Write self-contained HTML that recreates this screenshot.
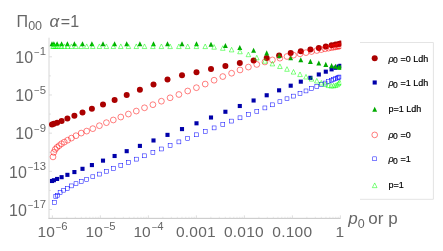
<!DOCTYPE html>
<html><head><meta charset="utf-8"><title>plot</title>
<style>
html,body{margin:0;padding:0;background:#fff;}
body{width:443px;height:251px;position:relative;overflow:hidden;font-family:"Liberation Sans",sans-serif;}
</style></head><body>
<svg width="443" height="251" viewBox="0 0 443 251" style="position:absolute;left:0;top:0;will-change:transform">
<defs><clipPath id="pc"><rect x="40" y="30" width="301.3" height="195"/></clipPath></defs>
<rect width="443" height="251" fill="#fff"/>
<g stroke="#cdcdcd" stroke-width="1" fill="none">
<line x1="49.0" y1="37.7" x2="49.0" y2="218.85" stroke="#d6d6d6"/>
<line x1="48.5" y1="218.35" x2="340.6" y2="218.35" stroke="#c6c6c6"/>
</g>
<g stroke="#d6d6d6" stroke-width="0.8" fill="none">
<line x1="52.40" y1="218.35" x2="52.40" y2="215.35"/>
<line x1="66.85" y1="218.35" x2="66.85" y2="216.75" stroke-opacity="0.7"/>
<line x1="75.30" y1="218.35" x2="75.30" y2="216.75" stroke-opacity="0.7"/>
<line x1="81.30" y1="218.35" x2="81.30" y2="216.75" stroke-opacity="0.7"/>
<line x1="85.95" y1="218.35" x2="85.95" y2="216.75" stroke-opacity="0.7"/>
<line x1="89.75" y1="218.35" x2="89.75" y2="216.75" stroke-opacity="0.7"/>
<line x1="92.96" y1="218.35" x2="92.96" y2="216.75" stroke-opacity="0.7"/>
<line x1="95.75" y1="218.35" x2="95.75" y2="216.75" stroke-opacity="0.7"/>
<line x1="98.20" y1="218.35" x2="98.20" y2="216.75" stroke-opacity="0.7"/>
<line x1="100.40" y1="218.35" x2="100.40" y2="215.35"/>
<line x1="114.85" y1="218.35" x2="114.85" y2="216.75" stroke-opacity="0.7"/>
<line x1="123.30" y1="218.35" x2="123.30" y2="216.75" stroke-opacity="0.7"/>
<line x1="129.30" y1="218.35" x2="129.30" y2="216.75" stroke-opacity="0.7"/>
<line x1="133.95" y1="218.35" x2="133.95" y2="216.75" stroke-opacity="0.7"/>
<line x1="137.75" y1="218.35" x2="137.75" y2="216.75" stroke-opacity="0.7"/>
<line x1="140.96" y1="218.35" x2="140.96" y2="216.75" stroke-opacity="0.7"/>
<line x1="143.75" y1="218.35" x2="143.75" y2="216.75" stroke-opacity="0.7"/>
<line x1="146.20" y1="218.35" x2="146.20" y2="216.75" stroke-opacity="0.7"/>
<line x1="148.40" y1="218.35" x2="148.40" y2="215.35"/>
<line x1="162.85" y1="218.35" x2="162.85" y2="216.75" stroke-opacity="0.7"/>
<line x1="171.30" y1="218.35" x2="171.30" y2="216.75" stroke-opacity="0.7"/>
<line x1="177.30" y1="218.35" x2="177.30" y2="216.75" stroke-opacity="0.7"/>
<line x1="181.95" y1="218.35" x2="181.95" y2="216.75" stroke-opacity="0.7"/>
<line x1="185.75" y1="218.35" x2="185.75" y2="216.75" stroke-opacity="0.7"/>
<line x1="188.96" y1="218.35" x2="188.96" y2="216.75" stroke-opacity="0.7"/>
<line x1="191.75" y1="218.35" x2="191.75" y2="216.75" stroke-opacity="0.7"/>
<line x1="194.20" y1="218.35" x2="194.20" y2="216.75" stroke-opacity="0.7"/>
<line x1="196.40" y1="218.35" x2="196.40" y2="215.35"/>
<line x1="210.85" y1="218.35" x2="210.85" y2="216.75" stroke-opacity="0.7"/>
<line x1="219.30" y1="218.35" x2="219.30" y2="216.75" stroke-opacity="0.7"/>
<line x1="225.30" y1="218.35" x2="225.30" y2="216.75" stroke-opacity="0.7"/>
<line x1="229.95" y1="218.35" x2="229.95" y2="216.75" stroke-opacity="0.7"/>
<line x1="233.75" y1="218.35" x2="233.75" y2="216.75" stroke-opacity="0.7"/>
<line x1="236.96" y1="218.35" x2="236.96" y2="216.75" stroke-opacity="0.7"/>
<line x1="239.75" y1="218.35" x2="239.75" y2="216.75" stroke-opacity="0.7"/>
<line x1="242.20" y1="218.35" x2="242.20" y2="216.75" stroke-opacity="0.7"/>
<line x1="244.40" y1="218.35" x2="244.40" y2="215.35"/>
<line x1="258.85" y1="218.35" x2="258.85" y2="216.75" stroke-opacity="0.7"/>
<line x1="267.30" y1="218.35" x2="267.30" y2="216.75" stroke-opacity="0.7"/>
<line x1="273.30" y1="218.35" x2="273.30" y2="216.75" stroke-opacity="0.7"/>
<line x1="277.95" y1="218.35" x2="277.95" y2="216.75" stroke-opacity="0.7"/>
<line x1="281.75" y1="218.35" x2="281.75" y2="216.75" stroke-opacity="0.7"/>
<line x1="284.96" y1="218.35" x2="284.96" y2="216.75" stroke-opacity="0.7"/>
<line x1="287.75" y1="218.35" x2="287.75" y2="216.75" stroke-opacity="0.7"/>
<line x1="290.20" y1="218.35" x2="290.20" y2="216.75" stroke-opacity="0.7"/>
<line x1="292.40" y1="218.35" x2="292.40" y2="215.35"/>
<line x1="306.85" y1="218.35" x2="306.85" y2="216.75" stroke-opacity="0.7"/>
<line x1="315.30" y1="218.35" x2="315.30" y2="216.75" stroke-opacity="0.7"/>
<line x1="321.30" y1="218.35" x2="321.30" y2="216.75" stroke-opacity="0.7"/>
<line x1="325.95" y1="218.35" x2="325.95" y2="216.75" stroke-opacity="0.7"/>
<line x1="329.75" y1="218.35" x2="329.75" y2="216.75" stroke-opacity="0.7"/>
<line x1="332.96" y1="218.35" x2="332.96" y2="216.75" stroke-opacity="0.7"/>
<line x1="335.75" y1="218.35" x2="335.75" y2="216.75" stroke-opacity="0.7"/>
<line x1="338.20" y1="218.35" x2="338.20" y2="216.75" stroke-opacity="0.7"/>
<line x1="340.40" y1="218.35" x2="340.40" y2="215.35"/>
<line x1="49.0" y1="56.80" x2="52.0" y2="56.80"/>
<line x1="49.0" y1="75.89" x2="50.8" y2="75.89"/>
<line x1="49.0" y1="94.98" x2="52.0" y2="94.98"/>
<line x1="49.0" y1="114.07" x2="50.8" y2="114.07"/>
<line x1="49.0" y1="133.16" x2="52.0" y2="133.16"/>
<line x1="49.0" y1="152.25" x2="50.8" y2="152.25"/>
<line x1="49.0" y1="171.34" x2="52.0" y2="171.34"/>
<line x1="49.0" y1="190.43" x2="50.8" y2="190.43"/>
<line x1="49.0" y1="209.52" x2="52.0" y2="209.52"/>
</g>
<g clip-path="url(#pc)">
<circle cx="52.00" cy="124.40" r="3.0" fill="#aa0000"/>
<circle cx="53.90" cy="123.80" r="3.0" fill="#aa0000"/>
<circle cx="57.10" cy="122.80" r="3.0" fill="#aa0000"/>
<circle cx="61.60" cy="121.00" r="3.0" fill="#aa0000"/>
<circle cx="67.40" cy="118.50" r="3.0" fill="#aa0000"/>
<circle cx="74.40" cy="115.70" r="3.0" fill="#aa0000"/>
<circle cx="82.50" cy="112.60" r="3.0" fill="#aa0000"/>
<circle cx="91.90" cy="108.70" r="3.0" fill="#aa0000"/>
<circle cx="103.00" cy="104.50" r="3.0" fill="#aa0000"/>
<circle cx="114.60" cy="99.90" r="3.0" fill="#aa0000"/>
<circle cx="126.70" cy="95.00" r="3.0" fill="#aa0000"/>
<circle cx="139.90" cy="89.80" r="3.0" fill="#aa0000"/>
<circle cx="153.50" cy="84.50" r="3.0" fill="#aa0000"/>
<circle cx="167.50" cy="79.50" r="3.0" fill="#aa0000"/>
<circle cx="182.00" cy="75.30" r="3.0" fill="#aa0000"/>
<circle cx="196.50" cy="72.20" r="3.0" fill="#aa0000"/>
<circle cx="211.00" cy="69.00" r="3.0" fill="#aa0000"/>
<circle cx="225.40" cy="66.00" r="3.0" fill="#aa0000"/>
<circle cx="239.80" cy="63.00" r="3.0" fill="#aa0000"/>
<circle cx="253.60" cy="60.50" r="3.0" fill="#aa0000"/>
<circle cx="266.70" cy="57.90" r="3.0" fill="#aa0000"/>
<circle cx="279.10" cy="55.50" r="3.0" fill="#aa0000"/>
<circle cx="290.70" cy="53.10" r="3.0" fill="#aa0000"/>
<circle cx="300.80" cy="51.30" r="3.0" fill="#aa0000"/>
<circle cx="310.40" cy="49.40" r="3.0" fill="#aa0000"/>
<circle cx="318.80" cy="47.90" r="3.0" fill="#aa0000"/>
<circle cx="325.80" cy="46.50" r="3.0" fill="#aa0000"/>
<circle cx="331.60" cy="45.30" r="3.0" fill="#aa0000"/>
<circle cx="335.50" cy="44.50" r="3.0" fill="#aa0000"/>
<circle cx="338.70" cy="43.90" r="3.0" fill="#aa0000"/>
<circle cx="340.40" cy="43.40" r="3.0" fill="#aa0000"/>
<rect x="49.95" y="178.95" width="4.1" height="4.1" fill="#0000aa"/>
<rect x="51.85" y="178.19" width="4.1" height="4.1" fill="#0000aa"/>
<rect x="55.05" y="176.91" width="4.1" height="4.1" fill="#0000aa"/>
<rect x="59.55" y="175.12" width="4.1" height="4.1" fill="#0000aa"/>
<rect x="65.35" y="172.80" width="4.1" height="4.1" fill="#0000aa"/>
<rect x="72.35" y="170.01" width="4.1" height="4.1" fill="#0000aa"/>
<rect x="80.45" y="166.77" width="4.1" height="4.1" fill="#0000aa"/>
<rect x="89.85" y="163.02" width="4.1" height="4.1" fill="#0000aa"/>
<rect x="100.95" y="158.59" width="4.1" height="4.1" fill="#0000aa"/>
<rect x="112.55" y="153.95" width="4.1" height="4.1" fill="#0000aa"/>
<rect x="124.65" y="149.12" width="4.1" height="4.1" fill="#0000aa"/>
<rect x="137.85" y="143.85" width="4.1" height="4.1" fill="#0000aa"/>
<rect x="151.45" y="138.42" width="4.1" height="4.1" fill="#0000aa"/>
<rect x="165.45" y="132.83" width="4.1" height="4.1" fill="#0000aa"/>
<rect x="179.95" y="127.04" width="4.1" height="4.1" fill="#0000aa"/>
<rect x="194.45" y="121.25" width="4.1" height="4.1" fill="#0000aa"/>
<rect x="208.95" y="115.46" width="4.1" height="4.1" fill="#0000aa"/>
<rect x="223.35" y="109.71" width="4.1" height="4.1" fill="#0000aa"/>
<rect x="237.75" y="103.96" width="4.1" height="4.1" fill="#0000aa"/>
<rect x="251.55" y="98.45" width="4.1" height="4.1" fill="#0000aa"/>
<rect x="264.65" y="93.22" width="4.1" height="4.1" fill="#0000aa"/>
<rect x="277.05" y="88.27" width="4.1" height="4.1" fill="#0000aa"/>
<rect x="288.65" y="83.64" width="4.1" height="4.1" fill="#0000aa"/>
<rect x="298.75" y="79.60" width="4.1" height="4.1" fill="#0000aa"/>
<rect x="308.35" y="75.77" width="4.1" height="4.1" fill="#0000aa"/>
<rect x="316.75" y="72.42" width="4.1" height="4.1" fill="#0000aa"/>
<rect x="323.75" y="69.62" width="4.1" height="4.1" fill="#0000aa"/>
<rect x="329.55" y="67.31" width="4.1" height="4.1" fill="#0000aa"/>
<rect x="333.45" y="65.75" width="4.1" height="4.1" fill="#0000aa"/>
<rect x="336.65" y="64.47" width="4.1" height="4.1" fill="#0000aa"/>
<rect x="338.35" y="63.79" width="4.1" height="4.1" fill="#0000aa"/>
<polygon points="49.55,46.25 54.45,46.25 52.00,41.15" fill="#00aa00"/>
<polygon points="51.45,46.25 56.35,46.25 53.90,41.15" fill="#00aa00"/>
<polygon points="54.65,46.25 59.55,46.25 57.10,41.15" fill="#00aa00"/>
<polygon points="59.15,46.25 64.05,46.25 61.60,41.15" fill="#00aa00"/>
<polygon points="64.95,46.25 69.85,46.25 67.40,41.15" fill="#00aa00"/>
<polygon points="71.95,46.25 76.85,46.25 74.40,41.15" fill="#00aa00"/>
<polygon points="80.05,46.25 84.95,46.25 82.50,41.15" fill="#00aa00"/>
<polygon points="89.45,46.25 94.35,46.25 91.90,41.15" fill="#00aa00"/>
<polygon points="100.55,46.25 105.45,46.25 103.00,41.15" fill="#00aa00"/>
<polygon points="112.15,46.25 117.05,46.25 114.60,41.15" fill="#00aa00"/>
<polygon points="124.25,46.25 129.15,46.25 126.70,41.15" fill="#00aa00"/>
<polygon points="137.45,46.25 142.35,46.25 139.90,41.15" fill="#00aa00"/>
<polygon points="151.05,46.25 155.95,46.25 153.50,41.15" fill="#00aa00"/>
<polygon points="165.05,46.25 169.95,46.25 167.50,41.15" fill="#00aa00"/>
<polygon points="179.55,46.25 184.45,46.25 182.00,41.15" fill="#00aa00"/>
<polygon points="194.05,46.25 198.95,46.25 196.50,41.15" fill="#00aa00"/>
<polygon points="208.55,46.85 213.45,46.85 211.00,41.75" fill="#00aa00"/>
<polygon points="222.95,48.05 227.85,48.05 225.40,42.95" fill="#00aa00"/>
<polygon points="237.35,50.05 242.25,50.05 239.80,44.95" fill="#00aa00"/>
<polygon points="251.15,52.85 256.05,52.85 253.60,47.75" fill="#00aa00"/>
<polygon points="264.25,55.45 269.15,55.45 266.70,50.35" fill="#00aa00"/>
<polygon points="276.65,58.05 281.55,58.05 279.10,52.95" fill="#00aa00"/>
<polygon points="288.25,60.25 293.15,60.25 290.70,55.15" fill="#00aa00"/>
<polygon points="298.35,62.25 303.25,62.25 300.80,57.15" fill="#00aa00"/>
<polygon points="307.95,63.95 312.85,63.95 310.40,58.85" fill="#00aa00"/>
<polygon points="316.35,65.55 321.25,65.55 318.80,60.45" fill="#00aa00"/>
<polygon points="323.35,66.95 328.25,66.95 325.80,61.85" fill="#00aa00"/>
<polygon points="329.15,68.15 334.05,68.15 331.60,63.05" fill="#00aa00"/>
<polygon points="333.05,68.85 337.95,68.85 335.50,63.75" fill="#00aa00"/>
<polygon points="336.25,69.45 341.15,69.45 338.70,64.35" fill="#00aa00"/>
<polygon points="337.95,69.75 342.85,69.75 340.40,64.65" fill="#00aa00"/>
<circle cx="53.00" cy="156.90" r="2.9" fill="none" stroke="#ff0000" stroke-width="0.5"/>
<circle cx="53.80" cy="152.40" r="2.9" fill="none" stroke="#ff0000" stroke-width="0.5"/>
<circle cx="55.20" cy="149.40" r="2.9" fill="none" stroke="#ff0000" stroke-width="0.5"/>
<circle cx="57.00" cy="147.40" r="2.9" fill="none" stroke="#ff0000" stroke-width="0.5"/>
<circle cx="59.10" cy="145.70" r="2.9" fill="none" stroke="#ff0000" stroke-width="0.5"/>
<circle cx="61.50" cy="143.80" r="2.9" fill="none" stroke="#ff0000" stroke-width="0.5"/>
<circle cx="64.30" cy="142.10" r="2.9" fill="none" stroke="#ff0000" stroke-width="0.5"/>
<circle cx="67.60" cy="140.20" r="2.9" fill="none" stroke="#ff0000" stroke-width="0.5"/>
<circle cx="71.40" cy="138.10" r="2.9" fill="none" stroke="#ff0000" stroke-width="0.5"/>
<circle cx="76.00" cy="135.70" r="2.9" fill="none" stroke="#ff0000" stroke-width="0.5"/>
<circle cx="81.20" cy="133.10" r="2.9" fill="none" stroke="#ff0000" stroke-width="0.5"/>
<circle cx="86.70" cy="131.10" r="2.9" fill="none" stroke="#ff0000" stroke-width="0.5"/>
<circle cx="92.80" cy="128.66" r="2.9" fill="none" stroke="#ff0000" stroke-width="0.5"/>
<circle cx="99.40" cy="125.71" r="2.9" fill="none" stroke="#ff0000" stroke-width="0.5"/>
<circle cx="106.40" cy="122.67" r="2.9" fill="none" stroke="#ff0000" stroke-width="0.5"/>
<circle cx="113.30" cy="119.98" r="2.9" fill="none" stroke="#ff0000" stroke-width="0.5"/>
<circle cx="120.80" cy="117.04" r="2.9" fill="none" stroke="#ff0000" stroke-width="0.5"/>
<circle cx="128.40" cy="114.05" r="2.9" fill="none" stroke="#ff0000" stroke-width="0.5"/>
<circle cx="136.30" cy="111.06" r="2.9" fill="none" stroke="#ff0000" stroke-width="0.5"/>
<circle cx="144.50" cy="107.80" r="2.9" fill="none" stroke="#ff0000" stroke-width="0.5"/>
<circle cx="152.90" cy="104.70" r="2.9" fill="none" stroke="#ff0000" stroke-width="0.5"/>
<circle cx="161.40" cy="101.20" r="2.9" fill="none" stroke="#ff0000" stroke-width="0.5"/>
<circle cx="170.10" cy="97.80" r="2.9" fill="none" stroke="#ff0000" stroke-width="0.5"/>
<circle cx="178.90" cy="94.50" r="2.9" fill="none" stroke="#ff0000" stroke-width="0.5"/>
<circle cx="187.70" cy="91.00" r="2.9" fill="none" stroke="#ff0000" stroke-width="0.5"/>
<circle cx="196.40" cy="87.70" r="2.9" fill="none" stroke="#ff0000" stroke-width="0.5"/>
<circle cx="205.20" cy="84.06" r="2.9" fill="none" stroke="#ff0000" stroke-width="0.5"/>
<circle cx="214.10" cy="80.22" r="2.9" fill="none" stroke="#ff0000" stroke-width="0.5"/>
<circle cx="222.80" cy="76.56" r="2.9" fill="none" stroke="#ff0000" stroke-width="0.5"/>
<circle cx="231.60" cy="73.22" r="2.9" fill="none" stroke="#ff0000" stroke-width="0.5"/>
<circle cx="240.00" cy="69.97" r="2.9" fill="none" stroke="#ff0000" stroke-width="0.5"/>
<circle cx="248.40" cy="67.07" r="2.9" fill="none" stroke="#ff0000" stroke-width="0.5"/>
<circle cx="256.80" cy="64.44" r="2.9" fill="none" stroke="#ff0000" stroke-width="0.5"/>
<circle cx="264.90" cy="61.97" r="2.9" fill="none" stroke="#ff0000" stroke-width="0.5"/>
<circle cx="272.40" cy="59.90" r="2.9" fill="none" stroke="#ff0000" stroke-width="0.5"/>
<circle cx="279.90" cy="58.18" r="2.9" fill="none" stroke="#ff0000" stroke-width="0.5"/>
<circle cx="287.00" cy="56.50" r="2.9" fill="none" stroke="#ff0000" stroke-width="0.5"/>
<circle cx="293.50" cy="55.12" r="2.9" fill="none" stroke="#ff0000" stroke-width="0.5"/>
<circle cx="300.00" cy="53.82" r="2.9" fill="none" stroke="#ff0000" stroke-width="0.5"/>
<circle cx="306.00" cy="52.62" r="2.9" fill="none" stroke="#ff0000" stroke-width="0.5"/>
<circle cx="311.50" cy="51.52" r="2.9" fill="none" stroke="#ff0000" stroke-width="0.5"/>
<circle cx="316.80" cy="50.50" r="2.9" fill="none" stroke="#ff0000" stroke-width="0.5"/>
<circle cx="321.30" cy="49.62" r="2.9" fill="none" stroke="#ff0000" stroke-width="0.5"/>
<circle cx="325.10" cy="48.82" r="2.9" fill="none" stroke="#ff0000" stroke-width="0.5"/>
<circle cx="328.40" cy="48.22" r="2.9" fill="none" stroke="#ff0000" stroke-width="0.5"/>
<circle cx="331.20" cy="47.62" r="2.9" fill="none" stroke="#ff0000" stroke-width="0.5"/>
<circle cx="333.50" cy="47.23" r="2.9" fill="none" stroke="#ff0000" stroke-width="0.5"/>
<circle cx="335.50" cy="46.86" r="2.9" fill="none" stroke="#ff0000" stroke-width="0.5"/>
<circle cx="337.20" cy="46.49" r="2.9" fill="none" stroke="#ff0000" stroke-width="0.5"/>
<circle cx="338.70" cy="46.16" r="2.9" fill="none" stroke="#ff0000" stroke-width="0.5"/>
<circle cx="339.70" cy="46.01" r="2.9" fill="none" stroke="#ff0000" stroke-width="0.5"/>
<rect x="52.45" y="200.45" width="3.9" height="3.9" fill="none" stroke="#0000ff" stroke-width="0.5"/>
<rect x="53.85" y="194.65" width="3.9" height="3.9" fill="none" stroke="#0000ff" stroke-width="0.5"/>
<rect x="55.55" y="193.25" width="3.9" height="3.9" fill="none" stroke="#0000ff" stroke-width="0.5"/>
<rect x="58.15" y="190.65" width="3.9" height="3.9" fill="none" stroke="#0000ff" stroke-width="0.5"/>
<rect x="61.75" y="188.25" width="3.9" height="3.9" fill="none" stroke="#0000ff" stroke-width="0.5"/>
<rect x="65.25" y="186.45" width="3.9" height="3.9" fill="none" stroke="#0000ff" stroke-width="0.5"/>
<rect x="69.45" y="183.95" width="3.9" height="3.9" fill="none" stroke="#0000ff" stroke-width="0.5"/>
<rect x="74.05" y="181.75" width="3.9" height="3.9" fill="none" stroke="#0000ff" stroke-width="0.5"/>
<rect x="79.25" y="179.55" width="3.9" height="3.9" fill="none" stroke="#0000ff" stroke-width="0.5"/>
<rect x="84.75" y="177.45" width="3.9" height="3.9" fill="none" stroke="#0000ff" stroke-width="0.5"/>
<rect x="90.85" y="174.81" width="3.9" height="3.9" fill="none" stroke="#0000ff" stroke-width="0.5"/>
<rect x="97.45" y="172.14" width="3.9" height="3.9" fill="none" stroke="#0000ff" stroke-width="0.5"/>
<rect x="104.45" y="169.30" width="3.9" height="3.9" fill="none" stroke="#0000ff" stroke-width="0.5"/>
<rect x="111.35" y="166.51" width="3.9" height="3.9" fill="none" stroke="#0000ff" stroke-width="0.5"/>
<rect x="118.85" y="163.47" width="3.9" height="3.9" fill="none" stroke="#0000ff" stroke-width="0.5"/>
<rect x="126.45" y="160.39" width="3.9" height="3.9" fill="none" stroke="#0000ff" stroke-width="0.5"/>
<rect x="134.35" y="157.19" width="3.9" height="3.9" fill="none" stroke="#0000ff" stroke-width="0.5"/>
<rect x="142.55" y="153.87" width="3.9" height="3.9" fill="none" stroke="#0000ff" stroke-width="0.5"/>
<rect x="150.95" y="150.47" width="3.9" height="3.9" fill="none" stroke="#0000ff" stroke-width="0.5"/>
<rect x="159.45" y="147.03" width="3.9" height="3.9" fill="none" stroke="#0000ff" stroke-width="0.5"/>
<rect x="168.15" y="143.50" width="3.9" height="3.9" fill="none" stroke="#0000ff" stroke-width="0.5"/>
<rect x="176.95" y="139.94" width="3.9" height="3.9" fill="none" stroke="#0000ff" stroke-width="0.5"/>
<rect x="185.75" y="136.37" width="3.9" height="3.9" fill="none" stroke="#0000ff" stroke-width="0.5"/>
<rect x="194.45" y="132.85" width="3.9" height="3.9" fill="none" stroke="#0000ff" stroke-width="0.5"/>
<rect x="203.25" y="129.42" width="3.9" height="3.9" fill="none" stroke="#0000ff" stroke-width="0.5"/>
<rect x="212.15" y="125.96" width="3.9" height="3.9" fill="none" stroke="#0000ff" stroke-width="0.5"/>
<rect x="220.85" y="122.57" width="3.9" height="3.9" fill="none" stroke="#0000ff" stroke-width="0.5"/>
<rect x="229.65" y="119.14" width="3.9" height="3.9" fill="none" stroke="#0000ff" stroke-width="0.5"/>
<rect x="238.05" y="115.87" width="3.9" height="3.9" fill="none" stroke="#0000ff" stroke-width="0.5"/>
<rect x="246.45" y="112.60" width="3.9" height="3.9" fill="none" stroke="#0000ff" stroke-width="0.5"/>
<rect x="254.85" y="109.33" width="3.9" height="3.9" fill="none" stroke="#0000ff" stroke-width="0.5"/>
<rect x="262.95" y="105.98" width="3.9" height="3.9" fill="none" stroke="#0000ff" stroke-width="0.5"/>
<rect x="270.45" y="102.88" width="3.9" height="3.9" fill="none" stroke="#0000ff" stroke-width="0.5"/>
<rect x="277.95" y="99.78" width="3.9" height="3.9" fill="none" stroke="#0000ff" stroke-width="0.5"/>
<rect x="285.05" y="96.84" width="3.9" height="3.9" fill="none" stroke="#0000ff" stroke-width="0.5"/>
<rect x="291.55" y="94.16" width="3.9" height="3.9" fill="none" stroke="#0000ff" stroke-width="0.5"/>
<rect x="298.05" y="91.47" width="3.9" height="3.9" fill="none" stroke="#0000ff" stroke-width="0.5"/>
<rect x="304.05" y="88.99" width="3.9" height="3.9" fill="none" stroke="#0000ff" stroke-width="0.5"/>
<rect x="309.55" y="86.71" width="3.9" height="3.9" fill="none" stroke="#0000ff" stroke-width="0.5"/>
<rect x="314.85" y="84.52" width="3.9" height="3.9" fill="none" stroke="#0000ff" stroke-width="0.5"/>
<rect x="319.35" y="82.66" width="3.9" height="3.9" fill="none" stroke="#0000ff" stroke-width="0.5"/>
<rect x="323.15" y="81.09" width="3.9" height="3.9" fill="none" stroke="#0000ff" stroke-width="0.5"/>
<rect x="326.45" y="79.72" width="3.9" height="3.9" fill="none" stroke="#0000ff" stroke-width="0.5"/>
<rect x="329.25" y="78.57" width="3.9" height="3.9" fill="none" stroke="#0000ff" stroke-width="0.5"/>
<rect x="331.55" y="77.61" width="3.9" height="3.9" fill="none" stroke="#0000ff" stroke-width="0.5"/>
<rect x="333.55" y="76.79" width="3.9" height="3.9" fill="none" stroke="#0000ff" stroke-width="0.5"/>
<rect x="335.25" y="76.08" width="3.9" height="3.9" fill="none" stroke="#0000ff" stroke-width="0.5"/>
<rect x="336.75" y="75.46" width="3.9" height="3.9" fill="none" stroke="#0000ff" stroke-width="0.5"/>
<rect x="337.75" y="75.05" width="3.9" height="3.9" fill="none" stroke="#0000ff" stroke-width="0.5"/>
<polygon points="50.70,48.50 55.30,48.50 53.00,43.90" fill="none" stroke="#00ff00" stroke-width="0.5"/>
<polygon points="51.50,48.50 56.10,48.50 53.80,43.90" fill="none" stroke="#00ff00" stroke-width="0.5"/>
<polygon points="52.90,48.50 57.50,48.50 55.20,43.90" fill="none" stroke="#00ff00" stroke-width="0.5"/>
<polygon points="54.70,48.50 59.30,48.50 57.00,43.90" fill="none" stroke="#00ff00" stroke-width="0.5"/>
<polygon points="56.80,48.50 61.40,48.50 59.10,43.90" fill="none" stroke="#00ff00" stroke-width="0.5"/>
<polygon points="59.20,48.51 63.80,48.51 61.50,43.91" fill="none" stroke="#00ff00" stroke-width="0.5"/>
<polygon points="62.00,48.51 66.60,48.51 64.30,43.91" fill="none" stroke="#00ff00" stroke-width="0.5"/>
<polygon points="65.30,48.51 69.90,48.51 67.60,43.91" fill="none" stroke="#00ff00" stroke-width="0.5"/>
<polygon points="69.10,48.51 73.70,48.51 71.40,43.91" fill="none" stroke="#00ff00" stroke-width="0.5"/>
<polygon points="73.70,48.52 78.30,48.52 76.00,43.92" fill="none" stroke="#00ff00" stroke-width="0.5"/>
<polygon points="78.90,48.52 83.50,48.52 81.20,43.92" fill="none" stroke="#00ff00" stroke-width="0.5"/>
<polygon points="84.40,48.52 89.00,48.52 86.70,43.92" fill="none" stroke="#00ff00" stroke-width="0.5"/>
<polygon points="90.50,48.53 95.10,48.53 92.80,43.93" fill="none" stroke="#00ff00" stroke-width="0.5"/>
<polygon points="97.10,48.53 101.70,48.53 99.40,43.93" fill="none" stroke="#00ff00" stroke-width="0.5"/>
<polygon points="104.10,48.54 108.70,48.54 106.40,43.94" fill="none" stroke="#00ff00" stroke-width="0.5"/>
<polygon points="111.00,48.54 115.60,48.54 113.30,43.94" fill="none" stroke="#00ff00" stroke-width="0.5"/>
<polygon points="118.50,48.54 123.10,48.54 120.80,43.94" fill="none" stroke="#00ff00" stroke-width="0.5"/>
<polygon points="126.10,48.55 130.70,48.55 128.40,43.95" fill="none" stroke="#00ff00" stroke-width="0.5"/>
<polygon points="134.00,48.55 138.60,48.55 136.30,43.95" fill="none" stroke="#00ff00" stroke-width="0.5"/>
<polygon points="142.20,48.56 146.80,48.56 144.50,43.96" fill="none" stroke="#00ff00" stroke-width="0.5"/>
<polygon points="150.60,48.57 155.20,48.57 152.90,43.97" fill="none" stroke="#00ff00" stroke-width="0.5"/>
<polygon points="159.10,48.57 163.70,48.57 161.40,43.97" fill="none" stroke="#00ff00" stroke-width="0.5"/>
<polygon points="167.80,48.58 172.40,48.58 170.10,43.98" fill="none" stroke="#00ff00" stroke-width="0.5"/>
<polygon points="176.60,48.58 181.20,48.58 178.90,43.98" fill="none" stroke="#00ff00" stroke-width="0.5"/>
<polygon points="185.40,48.59 190.00,48.59 187.70,43.99" fill="none" stroke="#00ff00" stroke-width="0.5"/>
<polygon points="194.10,48.59 198.70,48.59 196.40,43.99" fill="none" stroke="#00ff00" stroke-width="0.5"/>
<polygon points="202.90,48.60 207.50,48.60 205.20,44.00" fill="none" stroke="#00ff00" stroke-width="0.5"/>
<polygon points="211.80,49.20 216.40,49.20 214.10,44.60" fill="none" stroke="#00ff00" stroke-width="0.5"/>
<polygon points="220.50,50.30 225.10,50.30 222.80,45.70" fill="none" stroke="#00ff00" stroke-width="0.5"/>
<polygon points="229.30,51.90 233.90,51.90 231.60,47.30" fill="none" stroke="#00ff00" stroke-width="0.5"/>
<polygon points="237.70,53.78 242.30,53.78 240.00,49.18" fill="none" stroke="#00ff00" stroke-width="0.5"/>
<polygon points="246.10,56.70 250.70,56.70 248.40,52.10" fill="none" stroke="#00ff00" stroke-width="0.5"/>
<polygon points="254.50,59.90 259.10,59.90 256.80,55.30" fill="none" stroke="#00ff00" stroke-width="0.5"/>
<polygon points="262.60,63.21 267.20,63.21 264.90,58.61" fill="none" stroke="#00ff00" stroke-width="0.5"/>
<polygon points="270.10,65.90 274.70,65.90 272.40,61.30" fill="none" stroke="#00ff00" stroke-width="0.5"/>
<polygon points="277.60,68.54 282.20,68.54 279.90,63.94" fill="none" stroke="#00ff00" stroke-width="0.5"/>
<polygon points="284.70,71.29 289.30,71.29 287.00,66.69" fill="none" stroke="#00ff00" stroke-width="0.5"/>
<polygon points="291.20,74.10 295.80,74.10 293.50,69.50" fill="none" stroke="#00ff00" stroke-width="0.5"/>
<polygon points="297.70,76.58 302.30,76.58 300.00,71.98" fill="none" stroke="#00ff00" stroke-width="0.5"/>
<polygon points="303.70,79.01 308.30,79.01 306.00,74.41" fill="none" stroke="#00ff00" stroke-width="0.5"/>
<polygon points="309.20,81.11 313.80,81.11 311.50,76.51" fill="none" stroke="#00ff00" stroke-width="0.5"/>
<polygon points="314.50,83.04 319.10,83.04 316.80,78.44" fill="none" stroke="#00ff00" stroke-width="0.5"/>
<polygon points="319.00,85.04 323.60,85.04 321.30,80.44" fill="none" stroke="#00ff00" stroke-width="0.5"/>
<polygon points="322.80,86.46 327.40,86.46 325.10,81.86" fill="none" stroke="#00ff00" stroke-width="0.5"/>
<polygon points="326.10,87.60 330.70,87.60 328.40,83.00" fill="none" stroke="#00ff00" stroke-width="0.5"/>
<polygon points="328.90,88.00 333.50,88.00 331.20,83.40" fill="none" stroke="#00ff00" stroke-width="0.5"/>
<polygon points="331.20,87.90 335.80,87.90 333.50,83.30" fill="none" stroke="#00ff00" stroke-width="0.5"/>
<polygon points="333.20,87.56 337.80,87.56 335.50,82.96" fill="none" stroke="#00ff00" stroke-width="0.5"/>
<polygon points="334.90,86.75 339.50,86.75 337.20,82.15" fill="none" stroke="#00ff00" stroke-width="0.5"/>
<polygon points="336.40,85.58 341.00,85.58 338.70,80.98" fill="none" stroke="#00ff00" stroke-width="0.5"/>
<polygon points="337.40,84.50 342.00,84.50 339.70,79.90" fill="none" stroke="#00ff00" stroke-width="0.5"/>
</g>
<text x="15.32" y="63.0" font-family="Liberation Sans, sans-serif" font-size="16" letter-spacing="0" fill="#666666">10<tspan dx="0.9" dy="-6.699999999999999" font-size="9.6" letter-spacing="0">−</tspan><tspan dy="-0.9" font-size="11.3" letter-spacing="0">1</tspan></text>
<text x="15.32" y="101.1" font-family="Liberation Sans, sans-serif" font-size="16" letter-spacing="0" fill="#666666">10<tspan dx="0.9" dy="-6.699999999999999" font-size="9.6" letter-spacing="0">−</tspan><tspan dy="-0.9" font-size="11.3" letter-spacing="0">5</tspan></text>
<text x="15.32" y="139.3" font-family="Liberation Sans, sans-serif" font-size="16" letter-spacing="0" fill="#666666">10<tspan dx="0.9" dy="-6.699999999999999" font-size="9.6" letter-spacing="0">−</tspan><tspan dy="-0.9" font-size="11.3" letter-spacing="0">9</tspan></text>
<text x="9.04" y="177.6" font-family="Liberation Sans, sans-serif" font-size="16" letter-spacing="0" fill="#666666">10<tspan dx="0.9" dy="-6.699999999999999" font-size="9.6" letter-spacing="0">−</tspan><tspan dy="-0.9" font-size="11.3" letter-spacing="0">13</tspan></text>
<text x="9.04" y="215.8" font-family="Liberation Sans, sans-serif" font-size="16" letter-spacing="0" fill="#666666">10<tspan dx="0.9" dy="-6.699999999999999" font-size="9.6" letter-spacing="0">−</tspan><tspan dy="-0.9" font-size="11.3" letter-spacing="0">17</tspan></text>
<text x="37.59" y="237.3" font-family="Liberation Sans, sans-serif" font-size="15.5" letter-spacing="0" fill="#666666">10<tspan dx="0.9" dy="-6.3" font-size="9.6" letter-spacing="0">−</tspan><tspan dy="-0.9" font-size="11.3" letter-spacing="0">6</tspan></text>
<text x="85.59" y="237.3" font-family="Liberation Sans, sans-serif" font-size="15.5" letter-spacing="0" fill="#666666">10<tspan dx="0.9" dy="-6.3" font-size="9.6" letter-spacing="0">−</tspan><tspan dy="-0.9" font-size="11.3" letter-spacing="0">5</tspan></text>
<text x="133.49" y="237.3" font-family="Liberation Sans, sans-serif" font-size="15.5" letter-spacing="0" fill="#666666">10<tspan dx="0.9" dy="-6.3" font-size="9.6" letter-spacing="0">−</tspan><tspan dy="-0.9" font-size="11.3" letter-spacing="0">4</tspan></text>
<text x="195.9" y="237.3" text-anchor="middle" font-family="Liberation Sans, sans-serif" font-size="15.5" letter-spacing="0.25" fill="#666666">0.001</text>
<text x="243.9" y="237.3" text-anchor="middle" font-family="Liberation Sans, sans-serif" font-size="15.5" letter-spacing="0.25" fill="#666666">0.010</text>
<text x="292.3" y="237.3" text-anchor="middle" font-family="Liberation Sans, sans-serif" font-size="15.5" letter-spacing="0.25" fill="#666666">0.100</text>
<text x="339.9" y="237.3" text-anchor="middle" font-family="Liberation Sans, sans-serif" font-size="15.5" letter-spacing="0.25" fill="#666666">1</text>
<text x="16.6" y="26.6" font-family="Liberation Sans, sans-serif" font-size="16" fill="#666666">Π<tspan dy="3.4" font-size="12.5">00</tspan></text>
<text x="49.6" y="26.6" font-family="Liberation Sans, sans-serif" font-size="17" font-style="italic" fill="#666666">α</text>
<text x="60.8" y="26.6" font-family="Liberation Sans, sans-serif" font-size="16" fill="#666666">=1</text>
<text x="348.2" y="223.8" font-family="Liberation Sans, sans-serif" font-size="17" font-style="italic" fill="#666666">p</text>
<text x="357.7" y="227.8" font-family="Liberation Sans, sans-serif" font-size="12.5" fill="#666666">0</text>
<text x="368.3" y="223.8" font-family="Liberation Sans, sans-serif" font-size="17" fill="#666666">or</text>
<text x="388.3" y="223.8" font-family="Liberation Sans, sans-serif" font-size="17" fill="#666666">p</text>
<path d="M360 42.5 H433.4 V199.3 H360" fill="none" stroke="#e4e4e4" stroke-width="1"/>
<circle cx="374.70" cy="58.30" r="3.0" fill="#aa0000"/>
<rect x="372.65" y="80.45" width="4.1" height="4.1" fill="#0000aa"/>
<polygon points="372.25,111.85 377.15,111.85 374.70,106.75" fill="#00aa00"/>
<circle cx="374.70" cy="134.90" r="2.85" fill="none" stroke="#ff0000" stroke-width="0.5"/>
<rect x="372.75" y="156.85" width="3.9" height="3.9" fill="none" stroke="#0000ff" stroke-width="0.5"/>
<polygon points="372.35,187.65 377.05,187.65 374.70,182.95" fill="none" stroke="#00ff00" stroke-width="0.5"/>
<text x="388.6" y="61.5" font-family="Liberation Sans, sans-serif" font-size="9" font-style="italic" fill="#000000" stroke="#000" stroke-width="0.18">ρ</text><text x="392.9" y="63.0" font-family="Liberation Sans, sans-serif" font-size="8.5" fill="#000000" stroke="#000" stroke-width="0.18">0</text><text x="400.5" y="61.5" font-family="Liberation Sans, sans-serif" font-size="9" fill="#000000" stroke="#000" stroke-width="0.18">=0 Ldh</text>
<text x="388.6" y="86.0" font-family="Liberation Sans, sans-serif" font-size="9" font-style="italic" fill="#000000" stroke="#000" stroke-width="0.18">ρ</text><text x="392.9" y="87.5" font-family="Liberation Sans, sans-serif" font-size="8.5" fill="#000000" stroke="#000" stroke-width="0.18">0</text><text x="400.5" y="86.0" font-family="Liberation Sans, sans-serif" font-size="9" fill="#000000" stroke="#000" stroke-width="0.18">=1 Ldh</text>
<text x="388.5" y="111.6" font-family="Liberation Sans, sans-serif" font-size="9" fill="#000000" stroke="#000" stroke-width="0.18">p=1 Ldh</text>
<text x="388.6" y="137.5" font-family="Liberation Sans, sans-serif" font-size="9" font-style="italic" fill="#000000" stroke="#000" stroke-width="0.18">ρ</text><text x="392.9" y="139.0" font-family="Liberation Sans, sans-serif" font-size="8.5" fill="#000000" stroke="#000" stroke-width="0.18">0</text><text x="400.5" y="137.5" font-family="Liberation Sans, sans-serif" font-size="9" fill="#000000" stroke="#000" stroke-width="0.18">=0</text>
<text x="388.6" y="162.1" font-family="Liberation Sans, sans-serif" font-size="9" font-style="italic" fill="#000000" stroke="#000" stroke-width="0.18">ρ</text><text x="392.9" y="163.6" font-family="Liberation Sans, sans-serif" font-size="8.5" fill="#000000" stroke="#000" stroke-width="0.18">0</text><text x="400.5" y="162.1" font-family="Liberation Sans, sans-serif" font-size="9" fill="#000000" stroke="#000" stroke-width="0.18">=1</text>
<text x="388.5" y="187.8" font-family="Liberation Sans, sans-serif" font-size="9" fill="#000000" stroke="#000" stroke-width="0.18">p=1</text>
</svg>
</body></html>
